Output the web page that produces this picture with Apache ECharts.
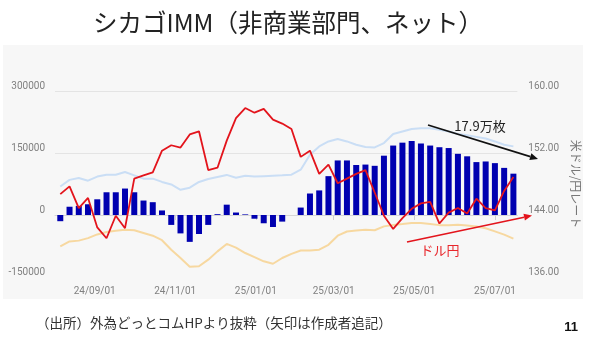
<!DOCTYPE html>
<html>
<head>
<meta charset="utf-8">
<script src="https://cdn.jsdelivr.net/npm/echarts@6/dist/echarts.min.js"></script>
<style>
html,body{margin:0;padding:0;background:#fff;}
#chart{width:590px;height:340px;}
</style>
</head>
<body>
<div id="chart"></div>
<script>
// Weekly report dates (Tuesdays)
const weeks = [
  '2024-08-06','2024-08-13','2024-08-20','2024-08-27','2024-09-03','2024-09-10','2024-09-17','2024-09-24',
  '2024-10-01','2024-10-08','2024-10-15','2024-10-22','2024-10-29','2024-11-05','2024-11-12','2024-11-19',
  '2024-11-26','2024-12-03','2024-12-10','2024-12-17','2024-12-24','2024-12-31','2025-01-07','2025-01-14',
  '2025-01-21','2025-01-28','2025-02-04','2025-02-11','2025-02-18','2025-02-25','2025-03-04','2025-03-11',
  '2025-03-18','2025-03-25','2025-04-01','2025-04-08','2025-04-15','2025-04-22','2025-04-29','2025-05-06',
  '2025-05-13','2025-05-20','2025-05-27','2025-06-03','2025-06-10','2025-06-17','2025-06-24','2025-07-01',
  '2025-07-08','2025-07-15'
];

// Net position (contracts)
const netPosition = [
  -15000, 20000, 22000, 26000, 38000, 55000, 55000, 64000,
  55000, 35000, 31000, 11000, -24000, -44500, -65000, -46000,
  -24000, 2000, 25000, 6000, 1500, -9000, -20000, -29000,
  -16000, 0, 18000, 52000, 59500, 94000, 132000, 132000,
  121000, 122000, 119000, 143500, 168000, 175000, 179000, 173000,
  168000, 164000, 162000, 148000, 142000, 128000, 129500, 125500,
  114000, 100000
];

// Long positions (contracts)
const longPosition = [
  69000, 85000, 89500, 83000, 93000, 97500, 97500, 104000,
  96000, 88000, 88000, 80000, 74000, 61000, 66000, 80000,
  87000, 92000, 97000, 90000, 95000, 93000, 94000, 95000,
  96000, 97500, 109500, 146000, 166000, 178000, 184000, 178000,
  170000, 164500, 163500, 174000, 196000, 202000, 208000, 210000,
  210000, 206000, 202000, 196000, 193000, 189000, 185000, 178000,
  170000, 166000
];

// Short positions (contracts, negative)
const shortPosition = [
  -76000, -64000, -62000, -56000, -47000, -41000, -38000, -35500,
  -37000, -43500, -50000, -61000, -84000, -104000, -125000, -124000,
  -108000, -88000, -70000, -79000, -92000, -102000, -112000, -118000,
  -104000, -94000, -86000, -86000, -84000, -72000, -50000, -40000,
  -37500, -35500, -37000, -27500, -24000, -22000, -19500, -19500,
  -21500, -24500, -25000, -23500, -25500, -28000, -32000, -39500,
  -47500, -57000
];

// USD/JPY rate
const usdJpy = [
  146.7, 147.7, 144.9, 146.2, 142.4, 141.0, 143.9, 142.3,
  148.7, 149.1, 149.5, 152.3, 153.0, 152.7, 154.4, 154.8,
  149.8, 150.1, 153.6, 156.5, 157.8, 157.2, 157.7, 156.3,
  155.8, 155.1, 151.5, 152.3, 149.3, 150.5, 148.1, 148.7,
  149.3, 149.8, 146.9, 143.9, 142.2, 143.6, 144.8, 145.5,
  145.7, 142.9, 144.3, 144.9, 144.2, 146.1, 144.9, 144.6,
  147.1, 148.9
];

// Date axis labels
const dateTicks = ['2024-09-01','2024-11-01','2025-01-01','2025-03-01','2025-05-01','2025-07-01'];

const titleText = 'シカゴIMM（非商業部門、ネット）';
const sourceText = '（出所）外為どっとコムHPより抜粋（矢印は作成者追記）';
const pageNo = '11';
const peakNote = '17.9万枚';
const rateNote = 'ドル円';

const ts = s => { const p = s.split('-').map(Number); return Date.UTC(p[0], p[1] - 1, p[2]); };
const pairs = vals => weeks.map((d, i) => [ts(d), vals[i]]);
const tickTs = dateTicks.map(ts);

const labelFont = "'Roboto', sans-serif";
const jpFont = "'Noto Sans CJK JP', sans-serif";

function arrow(x1, y1, x2, y2, color) {
  const a = Math.atan2(y2 - y1, x2 - x1);
  const L = 8, W = 3.5;
  const bx = x2 - L * Math.cos(a), by = y2 - L * Math.sin(a);
  const px = -Math.sin(a) * W, py = Math.cos(a) * W;
  return [
    { type: 'line', z: 100, shape: { x1: x1, y1: y1, x2: bx, y2: by }, style: { stroke: color, lineWidth: 1.6 } },
    { type: 'polygon', z: 100, shape: { points: [[x2, y2], [bx + px, by + py], [bx - px, by - py]] }, style: { fill: color } }
  ];
}

const chart = echarts.init(document.getElementById('chart'), null, { renderer: 'canvas' });

const pad2 = n => (n < 10 ? '0' : '') + n;
const fmtDate = v => {
  const d = new Date(v);
  return String(d.getUTCFullYear()).slice(2) + '/' + pad2(d.getUTCMonth() + 1) + '/' + pad2(d.getUTCDate());
};

chart.setOption({
  animation: false,
  backgroundColor: '#ffffff',
  grid: { left: 55, right: 64, top: 91, bottom: 63, containLabel: false },
  xAxis: {
    type: 'value',
    min: ts('2024-08-02'),
    max: ts('2025-07-18'),
    axisLine: { show: true, lineStyle: { color: '#d6d6d6', width: 1 } },
    axisTick: { show: true, customValues: tickTs, length: 5, lineStyle: { color: '#cfcfcf' } },
    splitLine: { show: false },
    axisLabel: {
      customValues: tickTs,
      color: '#808080',
      fontSize: 10,
      fontFamily: labelFont,
      margin: 9,
      formatter: fmtDate
    }
  },
  yAxis: [
    {
      type: 'value',
      min: -150000, max: 300000, interval: 150000,
      axisLine: { show: false }, axisTick: { show: false },
      axisLabel: { color: '#808080', fontSize: 10, fontFamily: labelFont, margin: 10, verticalAlign: 'bottom',
        formatter: v => String(v) },
      splitLine: { show: true, lineStyle: { color: ['rgba(0,0,0,0)', 'rgba(0,0,0,0)', '#e4e4e4', '#e4e4e4'], width: 1 } }
    },
    {
      type: 'value',
      min: 136, max: 160, interval: 8,
      position: 'right',
      name: '米ドル/円レート',
      nameLocation: 'middle',
      nameRotate: -90,
      nameGap: 46,
      nameTextStyle: { color: '#777', fontSize: 12, fontFamily: jpFont },
      axisLine: { show: false }, axisTick: { show: false },
      axisLabel: { color: '#808080', fontSize: 10, fontFamily: labelFont, margin: 11, verticalAlign: 'bottom',
        formatter: v => v.toFixed(2) },
      splitLine: { show: false }
    }
  ],
  series: [
    {
      name: 'ロング', type: 'line', yAxisIndex: 0, data: pairs(longPosition),
      showSymbol: false, lineStyle: { color: '#cadef5', width: 2 }, z: 2
    },
    {
      name: 'ショート', type: 'line', yAxisIndex: 0, data: pairs(shortPosition),
      showSymbol: false, lineStyle: { color: '#f7d8a0', width: 2 }, z: 2
    },
    {
      name: 'ネット', type: 'bar', yAxisIndex: 0, data: pairs(netPosition),
      barWidth: 6, itemStyle: { color: '#0000b0' }, z: 3
    },
    {
      name: 'ドル円', type: 'line', yAxisIndex: 1, data: pairs(usdJpy),
      showSymbol: false, lineStyle: { color: '#e3141c', width: 1.8 }, z: 4
    }
  ],
  graphic: [
    { type: 'rect', z: -10, silent: true, shape: { x: 3, y: 45, width: 580, height: 254 }, style: { fill: '#f7f7f7' } },
    { type: 'text', x: 288, y: 23, style: { text: titleText, font: "24.5px " + jpFont, fill: '#222', align: 'center', verticalAlign: 'middle' } },
    { type: 'text', x: 36, y: 323, style: { text: sourceText, font: "13.5px " + jpFont, fill: '#333', align: 'left', verticalAlign: 'middle' } },
    { type: 'text', x: 571, y: 327, style: { text: pageNo, font: "bold 13px 'Liberation Sans', sans-serif", fill: '#111', align: 'center', verticalAlign: 'middle' } },
    { type: 'text', x: 480, y: 126, z: 100, style: { text: peakNote, font: "13px " + jpFont, fill: '#222', align: 'center', verticalAlign: 'middle' } },
    { type: 'text', x: 440, y: 250, z: 100, style: { text: rateNote, font: "13px " + jpFont, fill: '#e8262b', align: 'center', verticalAlign: 'middle' } }
  ].concat(arrow(428, 125, 538, 159, '#111'), arrow(407, 242, 532, 215.5, '#e3141c'))
});
</script>
</body>
</html>
